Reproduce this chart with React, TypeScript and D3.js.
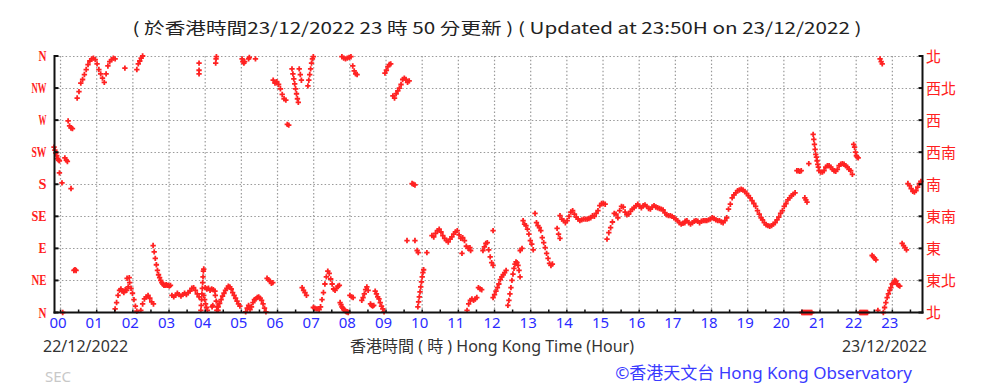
import React, { useEffect } from 'react';
import * as d3 from 'd3';

// wind direction (degrees from north)
// each run: first reading (hours from 00:00 22/12/2022), spacing in hours, directions
const sw2350 = [232, 228, 224, 220, 216, 214, 213];
const w0012 = [269, 262, 259, 258];
const nw0028 = [301, 310, 322, 327, 334, 341, 348, 353, 356, 357, 355, 349, 341, 335, 329, 323, 335, 346, 352, 355, 357, 356];
const ne0130 = [5, 14, 24, 31, 33, 30, 28, 32, 31, 36, 42, 34, 27, 18, 9, 2];
const n0206 = [341, 349, 353, 357, 360];
const ne0213 = [3, 12, 19, 22, 24, 20, 15, 12];
const e0234 = [94, 85, 76, 67, 59, 53, 49, 45, 42, 40, 38, 38, 39, 38, 38, 37, 38];
const ne0305 = [24, 22, 24, 27, 25, 23, 25, 27, 25, 28, 30, 34, 35, 31, 26, 22];
const ne0353 = [3, 10, 18, 26, 34, 42, 50, 58, 61];
const ne0358 = [24, 18, 12, 7, 3];
const ne0400 = [35, 33, 34, 31, 33, 32, 30];
const ne0417 = [24, 16, 8, 3];
const ne0419 = [3, 8, 13, 18, 23, 27, 31, 34, 37, 36, 33, 28, 24, 20, 16, 12, 9];
const ne0507 = [1, 6, 10, 4, 8, 14, 18, 19, 21, 22, 20, 17, 12, 6, 1];
const ne0543 = [48, 46, 44, 41, 42];
const nw0553 = [326, 322, 324, 320, 314, 306, 300, 298];
const nw0624 = [342, 335, 328, 321, 314, 307, 300, 295];
const nw0636 = [342, 334, 326];
const ne0641 = [35, 31, 28, 24];
const nw0650 = [318, 326, 334, 342, 350, 356, 359];
const ne0659 = [7, 6, 5, 5, 4, 8, 18, 28, 40, 50, 58, 55, 47, 40, 33, 31, 34, 37, 38];
const n0744 = [14, 11, 8, 6, 4, 3, 2, 1, 1, 0];
const n0747 = [359, 357, 356, 357, 358, 359];
const ne0800 = [24, 22, 21];
const nw0805 = [346, 339, 335, 334];
const ne0820 = [17, 21, 26, 32, 36, 31];
const n0834 = [12, 10, 9, 10];
const ne0842 = [30, 26, 22, 19, 14, 9, 5, 1];
const nw0858 = [336, 340, 345, 348, 349];
const nw0911 = [304, 301, 307, 311, 315, 320, 327, 329, 327, 323, 325];
const s0943 = [181, 180, 179];
const ne0953 = [8, 15, 22, 29, 36, 43, 50, 56, 60];
const ese1016 = [108, 106, 111, 115, 117, 113, 108, 104, 101, 99, 103, 106, 110, 113, 115, 109, 104, 105, 101, 93, 90, 91];
const ne1114 = [3, 12, 17, 19, 17, 19, 21, 35, 33, 32];
const e1141 = [87, 92, 97, 98, 88, 78, 70, 66];
const ne1158 = [21, 25, 30, 35, 40, 46, 50, 53, 56, 59];
const ne1222 = [10, 17, 26, 35, 45, 54, 62, 68, 71, 70, 66, 59, 50];
const se1247 = [129, 124, 122, 117, 110, 101, 96, 88];
const se1307 = [139, 126, 122, 119, 115, 105, 98, 91, 83, 76, 69, 66, 68];
const se1344 = [118, 110, 104];
const se1349 = [136, 131, 129, 126, 129, 135, 141, 143, 138, 134, 131, 129, 130, 131, 131, 131, 132, 133, 136, 135, 139, 143, 150, 153, 153, 152];
const se1507 = [103, 112, 119, 127, 139, 138, 133, 143, 149, 148, 141, 137, 138, 142, 145, 147, 150, 152, 149];
const se1604 = [147, 150, 151, 149, 146, 145, 148, 150, 148, 147, 146, 145, 144, 140, 137, 136, 136, 135, 133, 131, 129, 126, 124, 125, 126];
const se1716 = [128, 129, 126, 124, 126, 128, 129, 128, 126, 128, 129, 129, 129, 130, 131, 133, 132, 130, 129, 129, 127, 126];
const se1822 = [129, 133, 145, 152, 161, 165, 168, 171, 172, 173, 172, 170, 167, 164, 161, 157, 153, 149, 143, 138, 133];
const se1925 = [130, 126, 123, 122, 121, 122, 124, 126, 130, 134, 139, 143, 149, 153, 158, 161, 164, 166, 168];
const ssw2022 = [199, 199, 198, 199];
const n2030 = [0, 0, 0, 0, 0, 0, 0, 0, 0, 0];
const sse2035 = [161, 158, 155];
const sw2049 = [250, 243, 236, 229, 222, 218, 213, 208, 204, 199];
const ssw2101 = [197, 197, 199, 204, 206, 206, 204, 201, 199, 198, 201, 206, 208, 209, 208, 206, 204, 201, 199, 194];
const sw2156 = [236, 232, 225, 220, 218, 217];
const n2206 = [0, 0, 0, 0, 0, 0, 0, 0];
const e2226 = [80, 78, 76, 74];
const n2240 = [356, 352, 349];
const ne2245 = [0, 7, 14, 21, 26, 31, 35, 40, 42, 45, 44, 40, 38, 37];
const e2316 = [97, 94, 91, 88];
const s2326 = [181, 178, 174, 170, 169, 171, 176, 181, 184];

const runs = [
  { t0: -0.18, dt: 0.025, dirs: sw2350 },
  { t0: 0.21, dt: 0.04, dirs: w0012 },
  { t0: 0.46, dt: 0.05, dirs: nw0028 },
  { t0: 1.51, dt: 0.04, dirs: ne0130 },
  { t0: 2.11, dt: 0.04, dirs: n0206 },
  { t0: 2.22, dt: 0.05, dirs: ne0213 },
  { t0: 2.56, dt: 0.03, dirs: e0234 },
  { t0: 3.08, dt: 0.05, dirs: ne0305 },
  { t0: 3.88, dt: 0.01, dirs: ne0353 },
  { t0: 3.96, dt: 0.025, dirs: ne0358 },
  { t0: 4.0, dt: 0.045, dirs: ne0400 },
  { t0: 4.28, dt: 0.025, dirs: ne0417 },
  { t0: 4.32, dt: 0.04, dirs: ne0419 },
  { t0: 5.12, dt: 0.04, dirs: ne0507 },
  { t0: 5.71, dt: 0.04, dirs: ne0543 },
  { t0: 5.88, dt: 0.05, dirs: nw0553 },
  { t0: 6.4, dt: 0.025, dirs: nw0624 },
  { t0: 6.6, dt: 0.03, dirs: nw0636 },
  { t0: 6.68, dt: 0.04, dirs: ne0641 },
  { t0: 6.84, dt: 0.025, dirs: nw0650 },
  { t0: 6.99, dt: 0.04, dirs: ne0659 },
  { t0: 7.73, dt: 0.025, dirs: n0744 },
  { t0: 7.78, dt: 0.05, dirs: n0747 },
  { t0: 8.0, dt: 0.045, dirs: ne0800 },
  { t0: 8.08, dt: 0.04, dirs: nw0805 },
  { t0: 8.33, dt: 0.035, dirs: ne0820 },
  { t0: 8.57, dt: 0.03, dirs: n0834 },
  { t0: 8.7, dt: 0.035, dirs: ne0842 },
  { t0: 8.97, dt: 0.04, dirs: nw0858 },
  { t0: 9.19, dt: 0.045, dirs: nw0911 },
  { t0: 9.72, dt: 0.04, dirs: s0943 },
  { t0: 9.88, dt: 0.02, dirs: ne0953 },
  { t0: 10.27, dt: 0.05, dirs: ese1016 },
  { t0: 11.24, dt: 0.045, dirs: ne1114 },
  { t0: 11.68, dt: 0.04, dirs: e1141 },
  { t0: 11.96, dt: 0.04, dirs: ne1158 },
  { t0: 12.37, dt: 0.028, dirs: ne1222 },
  { t0: 12.79, dt: 0.04, dirs: se1247 },
  { t0: 13.12, dt: 0.04, dirs: se1307 },
  { t0: 13.73, dt: 0.04, dirs: se1344 },
  { t0: 13.81, dt: 0.05, dirs: se1349 },
  { t0: 15.11, dt: 0.05, dirs: se1507 },
  { t0: 16.06, dt: 0.05, dirs: se1604 },
  { t0: 17.27, dt: 0.05, dirs: se1716 },
  { t0: 18.37, dt: 0.05, dirs: se1822 },
  { t0: 19.41, dt: 0.05, dirs: se1925 },
  { t0: 20.36, dt: 0.04, dirs: ssw2022 },
  { t0: 20.5, dt: 0.03, dirs: n2030 },
  { t0: 20.58, dt: 0.03, dirs: sse2035 },
  { t0: 20.81, dt: 0.018, dirs: sw2049 },
  { t0: 21.02, dt: 0.046, dirs: ssw2101 },
  { t0: 21.93, dt: 0.025, dirs: sw2156 },
  { t0: 22.1, dt: 0.03, dirs: n2206 },
  { t0: 22.44, dt: 0.035, dirs: e2226 },
  { t0: 22.66, dt: 0.03, dirs: n2240 },
  { t0: 22.75, dt: 0.035, dirs: ne2245 },
  { t0: 23.27, dt: 0.04, dirs: e2316 },
  { t0: 23.43, dt: 0.045, dirs: s2326 },
];

// stray single readings [hour, direction]
const isolated: [number, number][] = [
  [-0.03, 196], [0.04, 182], [0.29, 174], [0.12, 217], [0.16, 214], [0.19, 212],
  [0.37, 59], [0.4, 60], [0.43, 59], [0.06, 0], [1.78, 343], [1.84, 48], [1.9, 49],
  [3.83, 350], [3.83, 340], [3.83, 335], [4.29, 350], [4.3, 356], [4.31, 359],
  [4.19, 8], [4.21, 10], [5.02, 356], [5.04, 352], [5.07, 350], [5.09, 352],
  [5.2, 356], [5.22, 358], [5.39, 356], [6.27, 264], [6.31, 263],
  [9.58, 101], [9.8, 101], [9.86, 87], [9.89, 84], [10.13, 84], [11.34, 87], [11.1, 83],
  [11.96, 115], [12.71, 87], [12.76, 90], [20.69, 209], [22.6, 3],
];

const dirLabels = ['N', 'NE', 'E', 'SE', 'S', 'SW', 'W', 'NW', 'N'];
const dirLabelsZh = ['北', '東北', '東', '東南', '南', '西南', '西', '西北', '北'];
const hours = d3.range(0, 24);

const title = '( 於香港時間23/12/2022 23 時 50 分更新 ) ( Updated at 23:50H on 23/12/2022 )';

export default function App() {
  useEffect(() => {
    document.body.style.margin = '0';
  }, []);

  const width = 983;
  const height = 388;
  const x = d3.scaleLinear().domain([-1 / 6, 23 + 5 / 6]).range([54.5, 922.5]);
  const y = d3.scaleLinear().domain([0, 360]).range([312.5, 56]);

  const points: [number, number][] = runs
    .flatMap(r => r.dirs.map((d, i) => [r.t0 + i * r.dt, d] as [number, number]))
    .concat(isolated);
  const cross = d3.symbol().type(d3.symbolCross).size(16)() || '';
  const fmt = d3.format('02d');
  const dirTicks = d3.range(0, 361, 45);
  const halfHours = d3.range(0, 24, 0.5);

  return (
    <svg width={width} height={height} style={{ display: 'block', background: '#fff' }}>
      <text x={497} y={34} textAnchor="middle" fontFamily="'Noto Sans CJK TC', 'Noto Sans'" fontSize={16}
        fill="#222" textLength={729} lengthAdjust="spacingAndGlyphs">{title}</text>

      {/* grid */}
      <g stroke="#9a9a9a" strokeWidth={1.2} strokeDasharray="1.5 2.2">
        {dirTicks.slice(1).map(d => (
          <line key={'h' + d} x1={x.range()[0]} x2={x.range()[1]} y1={Math.round(y(d)) + 0.5} y2={Math.round(y(d)) + 0.5} />
        ))}
        {hours.map(h => (
          <line key={'v' + h} x1={x(h)} x2={x(h)} y1={y(360)} y2={y(0)} />
        ))}
      </g>

      {/* readings */}
      <g fill="#ff2222">
        {points.map(([t, d], i) => (
          <path key={i} d={cross} transform={`translate(${x(t)},${y(d)})`} />
        ))}
      </g>

      {/* axes */}
      <g stroke="#111" strokeWidth={2}>
        <line x1={x.range()[0]} x2={x.range()[0]} y1={y(360) - 1} y2={y(0) + 1} />
        <line x1={x.range()[1]} x2={x.range()[1]} y1={y(360) - 1} y2={y(0) + 1} />
        <line x1={x.range()[0] - 1} x2={x.range()[1] + 1} y1={y(0)} y2={y(0)} />
        {dirTicks.map(d => (
          <g key={'t' + d}>
            <line x1={x.range()[0]} x2={x.range()[0] + 4} y1={y(d)} y2={y(d)} />
            <line x1={x.range()[1] - 4} x2={x.range()[1]} y1={y(d)} y2={y(d)} />
          </g>
        ))}
        {halfHours.map(h => (
          <line key={'m' + h} x1={x(h)} x2={x(h)} y1={y(0)} y2={y(0) - 3} strokeWidth={1.5} />
        ))}
      </g>

      {/* direction labels */}
      <g fill="#ff2020" fontFamily="'Liberation Serif', serif" fontSize={14} fontWeight="bold" textAnchor="end">
        {dirTicks.map((d, i) => (
          <text key={'l' + d} x={46.5} y={y(d) + 5} textLength={dirLabels[i].length > 1 ? 15 : 8}
            lengthAdjust="spacingAndGlyphs">{dirLabels[i]}</text>
        ))}
      </g>
      <g fill="#ff2020" fontFamily="'Noto Sans CJK TC', sans-serif" fontSize={15}>
        {dirTicks.map((d, i) => (
          <text key={'z' + d} x={926} y={y(d) + 5.5}>{dirLabelsZh[i]}</text>
        ))}
      </g>

      {/* hour labels */}
      <g fill="#2b2bff" fontFamily="'Noto Sans', sans-serif" fontSize={15} textAnchor="middle">
        {hours.map(h => (
          <text key={'x' + h} x={x(h) - 2.5} y={328}>{fmt(h)}</text>
        ))}
      </g>

      <g fontFamily="'Noto Sans', 'Noto Sans CJK TC', sans-serif" fontSize={16} fill="#333">
        <text x={43} y={352}>22/12/2022</text>
        <text x={492} y={352} textAnchor="middle">香港時間 ( 時 ) Hong Kong Time (Hour)</text>
        <text x={927} y={352} textAnchor="end">23/12/2022</text>
      </g>
      <text x={45} y={382} fontFamily="'Noto Sans', sans-serif" fontSize={15} fill="#c8c8c8">SEC</text>
      <text x={912} y={379} textAnchor="end" fontFamily="'Noto Sans', 'Noto Sans CJK TC', sans-serif" fontSize={17}
        fill="#3a3aff">©香港天文台 Hong Kong Observatory</text>
    </svg>
  );
}
